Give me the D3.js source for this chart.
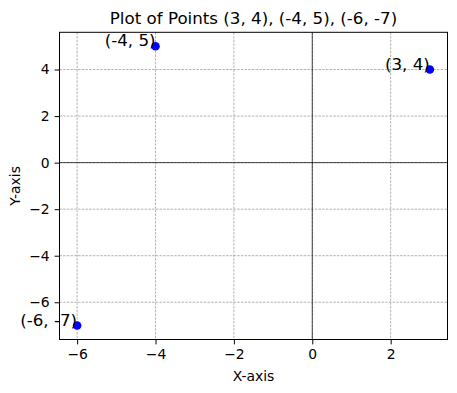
<!DOCTYPE html>
<html>
<head>
<meta charset="utf-8">
<script src="https://cdn.jsdelivr.net/npm/d3@7"></script>
<style>
  body { margin: 0; background: #fff; }
  text { font-family: "DejaVu Sans", sans-serif; fill: #000; }
</style>
</head>
<body>
<div id="chart"></div>
<script>
// Data
const pointX = [3, -4, -6],
    pointY = [4, 5, -7],
    pointLabels = ["(3, 4)", "(-4, 5)", "(-6, -7)"];
const xTicks = [-6, -4, -2, 0, 2],
    yTicks = [-6, -4, -2, 0, 2, 4];

const width = 457,
    height = 393,
    margin = ({ top: 32.3, right: 9.5, bottom: 53.5, left: 59.5 });

const svg = d3.select("#chart")
    .append("svg")
    .attr("width", width)
    .attr("height", height);

// matplotlib style 5% margins
let x = d3.scaleLinear()
    .domain([-6.45, 3.45])
    .range([margin.left, width - margin.right]);

let y = d3.scaleLinear()
    .domain([-7.6, 5.6])
    .range([height - margin.bottom, margin.top]);

// Grid lines
svg.append("g")
    .selectAll("line")
    .data(xTicks)
    .join("line")
    .attr("x1", d => x(d)).attr("x2", d => x(d))
    .attr("y1", margin.top).attr("y2", height - margin.bottom)
    .attr("stroke", "#808080")
    .attr("stroke-width", 0.6)
    .attr("stroke-dasharray", "2.5,1.2");

svg.append("g")
    .selectAll("line")
    .data(yTicks)
    .join("line")
    .attr("y1", d => y(d)).attr("y2", d => y(d))
    .attr("x1", margin.left).attr("x2", width - margin.right)
    .attr("stroke", "#808080")
    .attr("stroke-width", 0.6)
    .attr("stroke-dasharray", "2.5,1.2");

// Zero lines
svg.append("line")
    .attr("x1", margin.left).attr("x2", width - margin.right)
    .attr("y1", y(0)).attr("y2", y(0))
    .attr("stroke", "#000").attr("stroke-width", 0.7);
svg.append("line")
    .attr("x1", x(0)).attr("x2", x(0))
    .attr("y1", margin.top).attr("y2", height - margin.bottom)
    .attr("stroke", "#000").attr("stroke-width", 0.7);

// Axes
const xAxis = svg.append("g")
    .attr("transform", `translate(0,${height - margin.bottom})`)
    .call(d3.axisBottom(x).tickValues(xTicks).tickSizeOuter(0).tickSize(4.9).tickPadding(4.9));
const yAxis = svg.append("g")
    .attr("transform", `translate(${margin.left},0)`)
    .call(d3.axisLeft(y).tickValues(yTicks).tickSizeOuter(0).tickSize(4.9).tickPadding(4.9));

for (let g of [xAxis, yAxis]) {
    g.select(".domain").remove();
    g.selectAll("text").attr("font-size", "13.9px").attr("font-family", "DejaVu Sans");
    g.selectAll("line").attr("stroke", "#000").attr("stroke-width", 1);
}

// Frame
svg.append("rect")
    .attr("x", margin.left).attr("y", margin.top)
    .attr("width", width - margin.left - margin.right)
    .attr("height", height - margin.top - margin.bottom)
    .attr("fill", "none")
    .attr("stroke", "#000")
    .attr("stroke-width", 1);

// Points
svg.append("g")
    .selectAll("circle")
    .data(pointX)
    .join("circle")
    .attr("cx", d => x(d))
    .attr("cy", (d, i) => y(pointY[i]))
    .attr("r", 4.3)
    .attr("fill", "#0000ff");

// Point labels
svg.append("g")
    .selectAll("text")
    .data(pointLabels)
    .join("text")
    .attr("x", (d, i) => x(pointX[i]))
    .attr("y", (d, i) => y(pointY[i]))
    .attr("text-anchor", "end")
    .attr("font-size", "16.7px")
    .text(d => d);

// Title
svg.append("text")
    .attr("x", (margin.left + width - margin.right) / 2)
    .attr("y", 24)
    .attr("text-anchor", "middle")
    .attr("font-size", "16.7px")
    .text("Plot of Points (3, 4), (-4, 5), (-6, -7)");

// Axis labels
svg.append("text")
    .attr("x", (margin.left + width - margin.right) / 2)
    .attr("y", 381)
    .attr("text-anchor", "middle")
    .attr("font-size", "13.9px")
    .text("X-axis");

svg.append("text")
    .attr("transform", `translate(20,${(margin.top + height - margin.bottom) / 2}) rotate(-90)`)
    .attr("text-anchor", "middle")
    .attr("font-size", "13.9px")
    .text("Y-axis");
</script>
</body>
</html>
